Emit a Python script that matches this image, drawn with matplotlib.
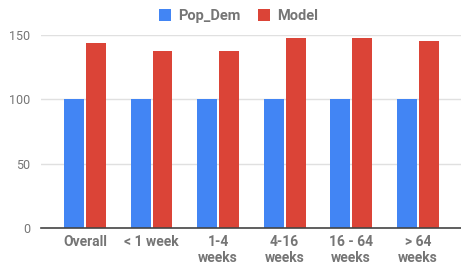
import matplotlib

matplotlib.use("Agg")
import matplotlib.pyplot as plt
import numpy as np

categories = ["Overall", "< 1 week", "1-4\nweeks", "4-16\nweeks", "16 - 64\nweeks", "> 64\nweeks"]
pop_dem = [100, 100, 100, 100, 100, 100]
model = [143.5, 138, 137.5, 148, 148, 145.5]
y_ticks = [0, 50, 100, 150]

BLUE = "#4285F4"
RED = "#DB4437"
TEXT = "#757575"

plt.rcParams["font.family"] = ["Roboto", "DejaVu Sans"]

fig = plt.figure(figsize=(4.61, 2.68), dpi=100)
ax = fig.add_axes([0.089, 0.149, 0.911, 0.720])

x = np.arange(len(categories))
width = 0.30
gap = 0.015
ax.bar(x - width / 2 - gap, pop_dem, width, color=BLUE, label="Pop_Dem", zorder=3)
ax.bar(x + width / 2 + gap, model, width, color=RED, label="Model", zorder=3)

ax.set_xlim(-0.66, 5.65)
ax.set_ylim(0, 150)
ax.set_yticks(y_ticks)
ax.set_xticks(x)
ax.set_xticklabels(categories, fontweight="bold", color=TEXT, fontsize=10,
                   linespacing=1.15)
ax.tick_params(axis="x", length=0, pad=5)
ax.tick_params(axis="y", length=0, pad=8, labelcolor=TEXT, labelsize=9)
for label in ax.get_yticklabels():
    label.set_horizontalalignment("right")

ax.grid(axis="y", color="#e0e0e0", linewidth=1, zorder=0)
for side in ["top", "right", "left"]:
    ax.spines[side].set_visible(False)
ax.spines["bottom"].set_color("#444444")
ax.spines["bottom"].set_linewidth(1.2)
ax.spines["bottom"].set_zorder(4)

leg = fig.legend(loc="upper center", bbox_to_anchor=(0.518, 1.015), ncol=2, frameon=False,
                 handlelength=0.8, handleheight=0.8, handletextpad=0.5, columnspacing=1.2,
                 prop={"weight": "bold", "size": 10.5})
for t in leg.get_texts():
    t.set_color(TEXT)

fig.savefig("out.png", dpi=100)
